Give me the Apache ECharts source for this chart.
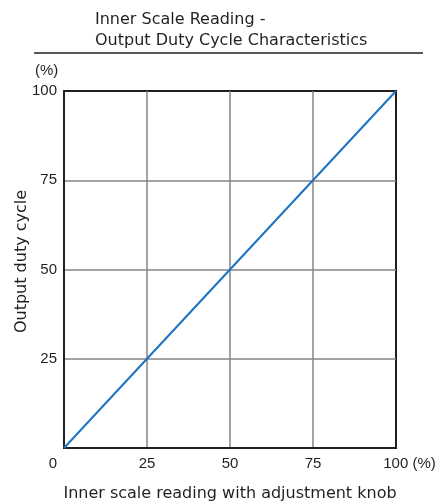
<!DOCTYPE html>
<html><head><meta charset="utf-8">
<script src="https://cdn.jsdelivr.net/npm/echarts@6/dist/echarts.min.js"></script>
<style>html,body{margin:0;padding:0;background:#fff}#c{width:439px;height:503px}</style>
</head><body><div id="c"></div>
<script>
const xValues = [0, 100];
const yValues = [0, 100];
const tickValues = [0, 25, 50, 75, 100];
const titleText = 'Inner Scale Reading -\nOutput Duty Cycle Characteristics';
const xName = 'Inner scale reading with adjustment knob';
const yName = 'Output duty cycle';
const unit = '(%)';

const txt = '#231f20';
const textFont = '"DejaVu Sans", "Liberation Sans", Arial, sans-serif';
const numFont = '"Liberation Sans", Arial, sans-serif';
const chart = echarts.init(document.getElementById('c'));
chart.setOption({
  animation: false,
  title: {
    text: titleText, left: 90, top: 4,
    textStyle: { fontFamily: textFont, fontSize: 16, fontWeight: 'normal', color: txt, lineHeight: 21 }
  },
  graphic: [
    { type: 'line', shape: { x1: 34, y1: 53, x2: 423, y2: 53 }, style: { stroke: txt, lineWidth: 1.5 } },
    { type: 'text', left: 35, top: 63, style: { text: unit, font: '15px ' + numFont, fill: txt } }
  ],
  grid: { left: 64, right: 43, top: 91, bottom: 55, show: true, borderColor: txt, borderWidth: 2, outerBoundsMode: 'none', containLabel: false },
  xAxis: {
    type: 'value', min: 0, max: 100, interval: 25,
    name: xName, nameLocation: 'middle', nameGap: 38,
    nameTextStyle: { fontFamily: textFont, fontSize: 16, color: txt },
    axisLine: { show: true, lineStyle: { color: txt, width: 2 } },
    axisTick: { show: false },
    splitLine: { show: true, showMinLine: false, showMaxLine: false, lineStyle: { color: '#858585', width: 1.5 } },
    axisLabel: {
      margin: 8, color: txt, fontFamily: numFont, fontSize: 15,
      formatter: v => v === 0 ? '{z|0}' : (v === 100 ? '{h|100 ' + unit + '}' : String(v)),
      rich: {
        z: { fontFamily: numFont, fontSize: 15, color: txt, padding: [0, 22, 0, 0] },
        h: { fontFamily: numFont, fontSize: 15, color: txt, padding: [0, 0, 0, 27] }
      }
    }
  },
  yAxis: {
    type: 'value', min: 0, max: 100, interval: 25,
    name: yName, nameLocation: 'middle', nameGap: 34, nameRotate: 90, nameMoveOverlap: false,
    nameTextStyle: { fontFamily: textFont, fontSize: 16, color: txt, padding: [0, 0, 0, 16] },
    axisLine: { show: true, lineStyle: { color: txt, width: 2 } },
    axisTick: { show: false },
    splitLine: { show: true, showMinLine: false, showMaxLine: false, lineStyle: { color: '#858585', width: 1.5 } },
    axisLabel: {
      margin: 7, color: txt, fontFamily: numFont, fontSize: 15,
      formatter: v => v === 0 ? '' : String(v)
    }
  },
  series: [{
    type: 'line', data: xValues.map((x, i) => [x, yValues[i]]),
    symbol: 'none', lineStyle: { color: '#1a73c0', width: 2 }, z: 5
  }]
});
</script></body></html>
